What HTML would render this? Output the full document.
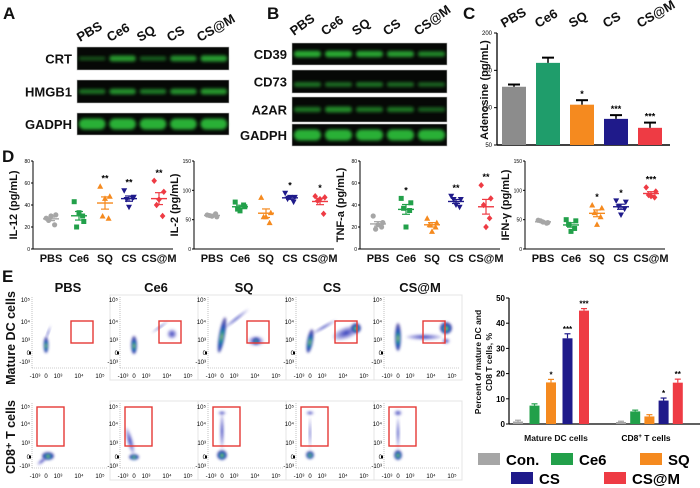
<!DOCTYPE html>
<html><head><meta charset="utf-8"><style>
html,body{margin:0;padding:0;background:#fff}
svg{display:block;font-family:"Liberation Sans",Arial,sans-serif}
</style></head><body>
<svg id="fig" width="700" height="488" viewBox="0 0 700 488" xmlns="http://www.w3.org/2000/svg">
<defs>
<filter id="blur1" x="-20%" y="-50%" width="140%" height="200%"><feGaussianBlur stdDeviation="1.6"/></filter>
<filter id="blur2" x="-50%" y="-50%" width="200%" height="200%"><feGaussianBlur stdDeviation="1.2"/></filter>
<radialGradient id="dens" cx="50%" cy="55%" r="50%">
<stop offset="0" stop-color="#f2e21a"/><stop offset="0.25" stop-color="#22b07a"/><stop offset="0.55" stop-color="#1d4fc0"/><stop offset="1" stop-color="#2a1f8f" stop-opacity="0.7"/>
</radialGradient>
<radialGradient id="dens2" cx="50%" cy="50%" r="50%">
<stop offset="0" stop-color="#2b36b8"/><stop offset="1" stop-color="#4a46c0" stop-opacity="0.15"/>
</radialGradient>
</defs>
<g id="root"></g>
</svg>
<script>
// ---------- data ----------
const groups = ["PBS","Ce6","SQ","CS","CS@M"];
const blotA_labels = ["CRT","HMGB1","GADPH"];
const blotA_intensity = [[0.3,0.8,0.4,0.75,0.85],[0.55,0.75,0.6,0.75,0.8],[1,1,1,1,1]];
const blotB_labels = ["CD39","CD73","A2AR","GADPH"];
const blotB_intensity = [[0.95,0.95,0.9,0.85,0.7],[0.55,0.5,0.55,0.5,0.45],[0.55,0.7,0.55,0.55,0.4],[1,1,1,1,1]];
const adenosine = [128,160,104,85,73];
const adenosineErr = [3,7,6,5,7];
const adenosineStars = ["","","*","***","***"];
const adenosineTicks = [50,100,150,200];
const il12 = [[28,31,26,22,30],[43,25,20,30,33],[57,48,30,28,46],[53,47,45,46,38],[62,52,40,30,45]];
const il2 = [[58,55,57,60,56],[80,72,68,75,65],[88,62,55,45,55],[95,88,85,80,88],[90,88,82,60,85]];
const tnfa = [[30,24,18,20,22],[46,42,37,35,20],[28,24,22,20,16],[48,45,45,38,40],[58,46,40,28,20]];
const ifng = [[49,45,48,44,46],[50,48,42,35,30],[75,70,62,55,42],[82,80,72,68,58],[105,98,92,88,90]];
const il12Stars = ["","","**","**","**"];
const il2Stars = ["","","","*","*"];
const tnfaStars = ["","*","","**","**"];
const ifngStars = ["","","*","*","***"];
const ticks80 = [0,20,40,60,80];
const ticks150 = [0,50,100,150];
const legendNames = ["Con.","Ce6","SQ","CS","CS@M"];
const dcPercent = [1,7.3,16.5,34,45];
const dcErr = [0.5,0.7,1.2,1.8,0.8];
const cd8Percent = [0.8,5,3,9.3,16.4];
const cd8Err = [0.3,0.5,0.7,1,1.4];
const dcStars = ["","","*","***","***"];
const cd8Stars = ["","","","*","**"];
const pctTicks = [0,10,20,30,40,50];
// ---------- helpers ----------
const NS="http://www.w3.org/2000/svg";
const root=document.getElementById('root');
function mk(tag,attrs,parent,text){const e=document.createElementNS(NS,tag);for(const k in attrs)e.setAttribute(k,attrs[k]);if(text!==undefined)e.textContent=text;(parent||root).appendChild(e);return e;}
const gcol=["#a6a6a6","#22a04a","#f58a1f","#1f1a8a","#ee3b44"];
const cCol=["#8c8c8c","#1f9d6b","#f58a1f","#1f1a8a","#ee3b44"];
function label(x,y,t,size,anchor,extra){const e=mk('text',Object.assign({x:x,y:y,'font-size':size,'font-weight':'bold','text-anchor':anchor||'middle',fill:'#111'},extra||{}),root,t);

return e;}
[["A",3,19],["B",267,19],["C",463,19],["D",2,162],["E",2,282]].forEach(p=>{const e=label(p[1],p[2],p[0],17,'start');
});
// ---------- blots ----------
function blot(x0,x1,rows,labels,intens,headerY,hx,hstep,ang,name){
  groups.forEach((g,i)=>{const t=label(hx+i*hstep,headerY,g,13,'start',{transform:`rotate(${ang} ${hx+i*hstep} ${headerY})`});
  });
  rows.forEach((r,ri)=>{
    const gg=mk('g',{});
    
    
    mk('rect',{x:x0,y:r[0],width:x1-x0,height:r[1]-r[0],fill:'#060806',stroke:'#bbb','stroke-width':0.6},gg);
    const lw=(x1-x0)/5;
    intens[ri].forEach((v,li)=>{
      const cx=x0+lw*(li+0.5), cy=(r[0]+r[1])/2+(labels[ri]==="CD73"?3:0);
      const h=labels[ri]==="GADPH"?(r[1]-r[0])*0.5:(r[1]-r[0])*0.2*(0.5+v);
      mk('rect',{x:cx-lw*0.44,y:cy-h/2,width:lw*0.88,height:h,rx:h/2,fill:'#2fc23a','fill-opacity':0.2+0.7*v,filter:'url(#blur1)'},gg);
    });
    label(x0-5,(r[0]+r[1])/2+5,labels[ri],13,'end');
  });
}
blot(77,229,[[47,70],[80,103],[113,135]],blotA_labels,blotA_intensity,42,80,30,-30,'panel-a');
blot(292,447,[[43,65],[70,93],[97,122],[124,146]],blotB_labels,blotB_intensity,36,294,31,-36,'panel-b');
// ---------- panel C ----------
(function(){
  const ax=497, y0=145, y1=33, vmin=50, vmax=200;
  const ys=v=>y0-(v-vmin)/(vmax-vmin)*(y0-y1);
  const g=mk('g',{});
  mk('line',{x1:ax,y1:y1,x2:ax,y2:y0,stroke:'#000','stroke-width':1.3},g);
  mk('line',{x1:ax,y1:y0,x2:670,y2:y0,stroke:'#000','stroke-width':1.5},g);
  adenosineTicks.forEach(t=>{mk('line',{x1:ax-3,y1:ys(t),x2:ax,y2:ys(t),stroke:'#000'},g);
    const e=mk('text',{x:ax-5,y:ys(t)+2,'font-size':6,'text-anchor':'end'},g,t);
    });
  const step=34, bw=24;
  adenosine.forEach((v,i)=>{const cx=514+i*step;
    const b=mk('rect',{x:cx-bw/2,y:ys(v),width:bw,height:y0-ys(v),fill:cCol[i]},g);
    
    const ey=ys(v+adenosineErr[i]);
    mk('line',{x1:cx,y1:ys(v),x2:cx,y2:ey,stroke:'#000','stroke-width':1.5},g);
    mk('line',{x1:cx-6,y1:ey,x2:cx+6,y2:ey,stroke:'#000','stroke-width':2},g);
    if(adenosineStars[i])mk('text',{x:cx,y:ey-3,'font-size':9,'font-weight':'bold','text-anchor':'middle'},g,adenosineStars[i]);
    const t=label(cx-10,28,groups[i],13,'start',{transform:`rotate(-30 ${cx-10} 28)`});
  });
  const yt=label(488,90,"Adenosine (pg/mL)",11,'middle',{transform:'rotate(-90 488 90)'});
})();
// ---------- panel D ----------
function dot(g,type,x,y,c){
  if(type===0)mk('circle',{cx:x,cy:y,r:2.6,fill:c},g);
  else if(type===1)mk('rect',{x:x-2.5,y:y-2.5,width:5,height:5,fill:c},g);
  else if(type===2)mk('polygon',{points:`${x},${y-3} ${x-3},${y+2.5} ${x+3},${y+2.5}`,fill:c},g);
  else if(type===3)mk('polygon',{points:`${x},${y+3} ${x-3},${y-2.5} ${x+3},${y-2.5}`,fill:c},g);
  else mk('polygon',{points:`${x},${y-3.2} ${x-2.8},${y} ${x},${y+3.2} ${x+2.8},${y}`,fill:c},g);
}
function scatterPlot(ax,data,vmax,ticks,stars,title,name){
  const y0=249,y1=161, ys=v=>y0-v/vmax*(y0-y1);
  const g=mk('g',{});
  mk('line',{x1:ax,y1:y1,x2:ax,y2:y0,stroke:'#000'},g);
  mk('line',{x1:ax,y1:y0,x2:ax+140,y2:y0,stroke:'#000'},g);
  ticks.forEach(t=>{mk('line',{x1:ax-2,y1:ys(t),x2:ax,y2:ys(t),stroke:'#000'},g);
    mk('text',{x:ax-3,y:ys(t)+2,'font-size':5,'text-anchor':'end'},g,t);});
  const offs=[18,46,72,96,126];
  data.forEach((arr,i)=>{const cx=ax+offs[i];
    const jit=[-4,4,-2,3,0];
    arr.forEach((v,k)=>dot(g,i,cx+jit[k]*1.2,ys(v),gcol[i]));
    const mean=arr.reduce((a,b)=>a+b,0)/arr.length;
    const sd=Math.sqrt(arr.reduce((a,b)=>a+(b-mean)*(b-mean),0)/(arr.length-1))/Math.sqrt(arr.length);
    mk('line',{x1:cx-8,y1:ys(mean),x2:cx+8,y2:ys(mean),stroke:gcol[i],'stroke-width':1.4},g);
    mk('line',{x1:cx,y1:ys(mean-sd),x2:cx,y2:ys(mean+sd),stroke:gcol[i],'stroke-width':1.2},g);
    mk('line',{x1:cx-4,y1:ys(mean-sd),x2:cx+4,y2:ys(mean-sd),stroke:gcol[i],'stroke-width':1.2},g);
    mk('line',{x1:cx-4,y1:ys(mean+sd),x2:cx+4,y2:ys(mean+sd),stroke:gcol[i],'stroke-width':1.2},g);
    if(stars[i])mk('text',{x:cx,y:ys(Math.max(...arr))-5,'font-size':9,'font-weight':'bold','text-anchor':'middle'},g,stars[i]);
    const t=label(cx,262,groups[i],11,'middle');
  });
  const yt=label(ax-16,205,title,11,'middle',{transform:`rotate(-90 ${ax-16} 205)`});
}
scatterPlot(33,il12,80,ticks80,il12Stars,"IL-12 (pg/mL)","il12-plot");
scatterPlot(194,il2,150,ticks150,il2Stars,"IL-2 (pg/mL)","il2-plot");
scatterPlot(360,tnfa,80,ticks80,tnfaStars,"TNF-a (pg/mL)","tnfa-plot");
scatterPlot(525,ifng,150,ticks150,ifngStars,"IFN-γ (pg/mL)","ifng-plot");
// ---------- panel E flow plots ----------
const rowA=label(15,338,"Mature DC cells",12.5,'middle',{transform:'rotate(-90 15 338)'});
const rowB=label(15,437,"CD8⁺ T cells",12.5,'middle',{transform:'rotate(-90 15 437)'});
const dcBlobs=[
 [[14,48,2.5,8,0,1],[16,36,1,8,20,2]],
 [[14,48,3,9,0,1],[52,37,5,5,0,2],[40,30,10,1,-35,2]],
 [[14,38,3,18,10,1],[28,22,16,1.5,-38,2],[48,44,8,5,0,2],[48,44,3,3,0,1]],
 [[14,44,3,12,10,1],[28,30,14,1.5,-30,2],[50,36,14,6,-20,2],[60,31,5,5,0,1]],
 [[14,40,3,14,0,1],[40,40,18,3,0,2],[62,31,6,6,0,1],[62,44,4,3,0,2]]];
const cdBlobs=[
 [[16,53,6,4,0,1],[10,58,6,2,-40,2]],
 [[14,54,5,3,0,1],[10,38,3,14,-15,2]],
 [[14,52,5,5,0,1],[14,28,2,18,0,2],[14,10,4,2,0,2]],
 [[14,52,4,4,0,1],[14,10,4,2,0,2],[14,30,1,16,0,2]],
 [[14,52,4,5,0,1],[14,10,4,3,0,2],[14,30,1.5,16,0,2]]];
const xTickL=["-10³","0","10³","10⁴","10⁵"];
function flow(ax,top,bottom,blobs,gate,yTickY,title,frame,name){
  const g=mk('g',{});
  if(frame)mk('rect',{x:ax-10,y:top-2,width:88,height:bottom-top+14,fill:'none',stroke:'#e4e4e4','stroke-width':1},g);
  mk('line',{x1:ax,y1:top,x2:ax,y2:bottom,stroke:'#999','stroke-width':0.6,'stroke-dasharray':'1 1'},g);
  mk('line',{x1:ax,y1:bottom,x2:ax+75,y2:bottom,stroke:'#999','stroke-width':0.6,'stroke-dasharray':'1 1'},g);
  const yl=["10⁵","10⁴","10³","0","-10³"];
  yTickY.forEach((y,i)=>mk('text',{x:ax-2,y:y+2,'font-size':6,'text-anchor':'end'},g,yl[i]));
  [3,14,26,47,68].forEach((dx,i)=>mk('text',{x:ax+dx,y:bottom+10,'font-size':6,'text-anchor':'middle'},g,xTickL[i]));
  mk('rect',{x:ax-3,y:yTickY[3]-1.5,width:2,height:3,fill:'#000'},g);
  blobs.forEach(b=>{mk('ellipse',{cx:ax+b[0],cy:top+b[1],rx:b[2],ry:b[3],transform:`rotate(${b[4]} ${ax+b[0]} ${top+b[1]})`,fill:b[5]===1?'url(#dens)':'url(#dens2)',filter:'url(#blur2)'},g);});
  const r=mk('rect',{x:ax+gate[0],y:gate[1],width:gate[2],height:gate[3],fill:'none',stroke:'#e53935','stroke-width':1.4},g);
  
  if(title){const t=label(ax+36,292,title,13,'middle');}
}
for(let i=0;i<5;i++){
  const ax=32+88*i;
  flow(ax,297,368,dcBlobs[i],[39,321,22,22],[300,322,340,353,362],groups[i],i>0,'dc-flow-'+groups[i].toLowerCase());
  flow(ax,403,468,cdBlobs[i],[5,407,27,39],[407,424,443,457,466],null,i>0,'cd8-flow-'+groups[i].toLowerCase());
}
// ---------- panel E bar chart ----------
(function(){
  const ax=509,y0=424,y1=298,vmax=50, ys=v=>y0-v/vmax*(y0-y1);
  const g=mk('g',{});
  mk('line',{x1:ax,y1:y1,x2:ax,y2:y0,stroke:'#000','stroke-width':1.2},g);
  mk('line',{x1:ax,y1:y0,x2:700,y2:y0,stroke:'#000','stroke-width':1.2},g);
  pctTicks.forEach(t=>{mk('line',{x1:ax-3,y1:ys(t),x2:ax,y2:ys(t),stroke:'#000'},g);
    mk('text',{x:ax-4,y:ys(t)+3,'font-size':8,'font-weight':'bold','text-anchor':'end'},g,t);});
  const starts=[518,621], steps=[16.5,14.2], bw=10;
  [[dcPercent,dcErr,dcStars],[cd8Percent,cd8Err,cd8Stars]].forEach((set,gi)=>{
    set[0].forEach((v,i)=>{const cx=starts[gi]+i*steps[gi];
      const b=mk('rect',{x:cx-bw/2,y:ys(v),width:bw,height:y0-ys(v),fill:gcol[i]},g);
      
      const ey=ys(v+set[1][i]);
      mk('line',{x1:cx,y1:ys(v),x2:cx,y2:ey,stroke:gcol[i],'stroke-width':1.2},g);
      mk('line',{x1:cx-3,y1:ey,x2:cx+3,y2:ey,stroke:gcol[i],'stroke-width':1.2},g);
      if(set[2][i])mk('text',{x:cx,y:ey-2,'font-size':8,'font-weight':'bold','text-anchor':'middle'},g,set[2][i]);
    });
  });
  const l1=label(556,441,"Mature DC cells",8.5,'middle');
  const l2=mk('text',{x:646,y:441,'font-size':8.5,'font-weight':'bold','text-anchor':'middle'},root);
  
  mk('tspan',{},l2,"CD8");mk('tspan',{dy:-3,'font-size':6},l2,"+");mk('tspan',{dy:3},l2," T cells");
  const t1=label(481,362,"Percent of mature DC and",8.5,'middle',{transform:'rotate(-90 481 362)'});
  const t2=label(492,362,"CD8 T cells, %",8.5,'middle',{transform:'rotate(-90 492 362)'});
  const pos=[[478,453],[551,453],[640,453],[511,472],[604,472]];
  legendNames.forEach((n,i)=>{const lg=mk('g',{});
    mk('rect',{x:pos[i][0],y:pos[i][1],width:22,height:12,fill:gcol[i]},lg);
    mk('text',{x:pos[i][0]+28,y:pos[i][1]+12,'font-size':15,'font-weight':'bold'},lg,n);});
})();
</script>
</body></html>
